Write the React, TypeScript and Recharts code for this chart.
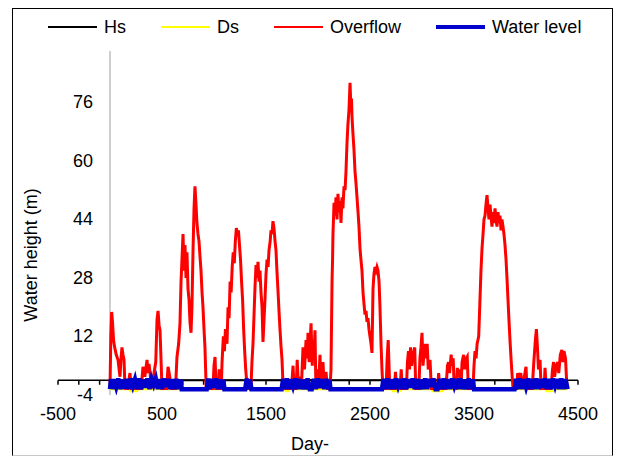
import React from 'react';
import { LineChart, Line, XAxis, YAxis, ReferenceLine, Legend } from 'recharts';

// ---- data (day, value) ----
const xTicks = [-500, 500, 1500, 2500, 3500, 4500];
const yTicks = [-4, 12, 28, 44, 60, 76];
const axisTickMarks = [-500, -300, -100, 100, 300, 500, 700, 900, 1100, 1300, 1500, 1700, 1900, 2100, 2300, 2500, 2700, 2900, 3100, 3300, 3500, 3700, 3900, 4100, 4300, 4500];

const hsPoints: number[][] = [[0, 0], [4400, 0]];

const dsPoints: number[][] = [
  [0, -2.4], [180, -2.4], [195, -3.0], [260, -3.0], [275, -2.4], [1680, -2.4], [1690, -3.0], [1715, -3.0], [1725, -2.4],
  [2710, -2.4], [2720, -3.0], [2790, -3.0], [2800, -2.4], [3090, -2.4], [3100, -3.0], [3200, -3.0], [3210, -2.4],
  [4190, -2.4], [4200, -3.0], [4260, -3.0], [4270, -2.4], [4400, -2.4],
];

const overflowPoints: number[][] = [
  [0, -2.2], [8, 12], [16, 18.7], [24, 16], [34, 11], [45, 9], [60, 7], [77, 5.6], [96, 1], [106, 6], [115, 9], [125, 7], [135, 5.6], [144, -2.2], [170, -2.2], [192, 2], [205, -2.2], [300, -2.2], [317, 3.7], [335, 1], [356, 5.6], [365, 2], [375, 4.5], [385, 2], [400, -2.2], [440, 5], [452, 16.5], [462, 19], [472, 15], [481, 13.7], [500, -2.2], [545, -2.2], [558, 3.7], [575, 1], [590, -2.2], [630, -2.2], [644, 6.4], [660, 10], [673, 15.6], [683, 27],
  [692, 33], [702, 40], [712, 30], [721, 37], [731, 28], [740, 35], [750, 25], [760, 22], [769, 16], [779, 13], [788, 20], [798, 35], [808, 47], [817, 53], [827, 48], [836, 43], [846, 40], [856, 38], [865, 34], [875, 30], [885, 24], [894, 20], [904, 14], [913, 9], [925, -2.2],
  [990, -2.2], [1000, 4], [1010, 6.4], [1020, -2.2], [1040, -2.2], [1050, 3], [1060, -2.2], [1070, -2.2], [1077, 4.7], [1090, 12], [1100, 8], [1110, 14], [1125, 10], [1135, 20], [1145, 17], [1155, 27], [1165, 24], [1175, 31], [1185, 35], [1195, 32], [1205, 38], [1215, 41.6], [1225, 40], [1235, 41], [1245, 37], [1255, 33], [1265, 27], [1275, 22], [1285, 14], [1295, 8], [1305, 3], [1320, -2.2],
  [1355, -2.2], [1365, 5], [1375, 10], [1385, 18], [1395, 26], [1404, 31.5], [1414, 28], [1423, 32.4], [1433, 27], [1442, 30], [1452, 24], [1462, 20], [1471, 10.5], [1480, 16], [1490, 22], [1500, 29], [1510, 33], [1520, 31], [1529, 35.6], [1540, 38], [1548, 41], [1558, 40], [1567, 43.5], [1577, 41.6], [1587, 38], [1596, 35.6], [1605, 30], [1615, 24.7], [1625, 19], [1635, 13.7], [1645, 9], [1654, 5.6], [1665, -2.2],
  [1745, -2.2], [1760, 4], [1770, -2.2], [1790, -2.2], [1800, 5.6], [1812, -2.2], [1827, 1], [1840, -2.2], [1856, 9], [1870, 3], [1885, 11], [1895, 6], [1904, 13], [1915, 5], [1933, 15.6], [1945, 4], [1952, 11], [1962, 6], [1971, 13.7], [1980, -2.2], [1990, 3], [2005, -2.2], [2019, 7], [2030, -2.2], [2048, 5], [2060, -2.2], [2077, 2.3], [2090, -2.2], [2115, -2.2],
  [2125, 3], [2135, 27], [2140, 33], [2144, 40], [2150, 45], [2154, 48.5], [2163, 45], [2173, 50], [2183, 44], [2192, 51], [2202, 46], [2212, 49], [2221, 43], [2231, 50], [2240, 47], [2250, 53], [2260, 52], [2269, 57], [2279, 65], [2288, 70], [2298, 74], [2308, 81.3], [2317, 74], [2322, 77], [2327, 72], [2337, 67], [2346, 63], [2356, 57], [2365, 54], [2375, 50], [2385, 46], [2394, 42], [2404, 36], [2413, 33], [2423, 30], [2433, 24], [2442, 21], [2452, 18], [2462, 19], [2471, 16], [2481, 17], [2490, 14], [2500, 12], [2510, 10], [2519, 7.5], [2529, 25], [2538, 29], [2548, 31], [2558, 30], [2567, 31], [2577, 30], [2587, 27], [2596, 20], [2606, 10], [2615, 3], [2625, -2.2],
  [2655, -2.2], [2665, 6], [2675, 11], [2690, -2.2],
  [2735, -2.2], [2745, 2.3], [2755, -2.2], [2790, -2.2], [2800, 3], [2810, -2.2], [2850, -2.2], [2860, 5], [2870, 8], [2880, 3], [2890, 9], [2900, 4], [2915, 7], [2930, 9], [2940, -2.2], [2970, -2.2], [2980, 6], [2990, 9], [3000, 13], [3010, 4], [3020, 8], [3030, 10], [3040, 6], [3050, 10], [3060, 3], [3077, 5.6], [3090, -2.2], [3150, -2.2], [3160, 2], [3170, -2.2], [3230, -2.2], [3245, 4], [3255, 5], [3265, 2], [3280, 7], [3290, 4], [3300, 6], [3310, -2.2], [3330, -2.2], [3340, 3.4], [3350, 1], [3360, 3], [3375, -2.2], [3385, 5], [3400, 7], [3410, 3], [3425, 6], [3435, 6.5], [3445, -2.2], [3490, -2.2], [3500, 4], [3510, 8], [3520, 6], [3530, 10], [3545, 12], [3555, 20], [3567, 30],
  [3577, 36], [3587, 40], [3596, 44], [3606, 45], [3615, 48], [3625, 50.6], [3635, 47], [3644, 44], [3654, 48], [3663, 45], [3673, 42], [3683, 46], [3692, 43], [3702, 47], [3712, 44], [3721, 42], [3731, 46], [3740, 43], [3750, 45], [3760, 41], [3769, 44], [3779, 42], [3788, 40], [3798, 37], [3808, 33], [3817, 28], [3827, 22], [3837, 16], [3846, 11], [3856, 6], [3865, 2], [3875, -2.2],
  [3910, -2.2], [3920, 2], [3930, 0.5], [3950, 2], [3965, -2.2], [3990, 2], [4000, 3.7], [4010, -2.2], [4060, -2.2], [4075, 5], [4090, 11], [4100, 14], [4110, 9], [4120, 3], [4135, 5.6], [4145, -2.2], [4175, -2.2], [4183, 3.4], [4195, -2.2], [4240, -2.2], [4255, 3], [4265, 5], [4275, 1], [4290, 4], [4305, 5], [4315, 2], [4330, 7], [4345, 8.3], [4355, 5], [4365, 8], [4380, 6], [4394, -2.2],
];

const waterLevelPoints: number[][] = [
  [0, -2.4], [10, 0.4], [20, -2.4], [40, 0.3], [60, -1.8], [80, 0.5], [100, -2.4], [120, 0.2], [140, -2.2], [160, 0.4], [180, -2.4], [200, 0.5], [220, -1.5], [240, 0.3], [260, -2.4], [280, 0.5], [300, -2.4], [320, 0.2], [340, -2], [360, 0.5], [380, -2.4], [400, 0.4], [420, -1.2], [440, 0.5], [460, -2.4], [480, 0.3], [500, -2.4], [520, 0.5], [540, -1.8], [560, 0.4], [580, -2.4], [600, 0.3], [620, -2.4], [640, 0.4], [660, -2.4], [680, 0.2], [690, -2.4],
  [930, -2.4], [945, 0.5], [960, -2.4], [980, 0.4], [1000, -2], [1020, 0.5], [1040, -2.4], [1060, 0.3], [1075, -2.4], [1090, 0.2], [1100, -2.4],
  [1300, -2.4], [1315, 0.5], [1330, -2.4], [1345, 0.3], [1360, -2.4],
  [1650, -2.4], [1665, 0.4], [1680, -2.4], [1700, 0.5], [1720, -2.4], [1740, 0.3], [1760, -1.6], [1780, 0.5], [1800, -2.4], [1820, 0.4], [1840, -2.4], [1860, 0.2], [1880, -2.4], [1900, 0.5], [1920, -2.4], [1940, -2.4], [1960, 0.4], [1980, -2.4], [2000, 0.5], [2020, -2], [2040, 0.3], [2060, -2.4], [2080, 0.4], [2100, -2.4], [2110, 0.2], [2120, -2.4],
  [2615, -2.4], [2630, 0.4], [2650, -2.4], [2670, 0.5], [2690, -2.4], [2710, 0.3], [2730, -2.4], [2750, 0.5], [2770, -1.5], [2790, 0.4], [2810, -2.4], [2830, 0.5], [2850, -2.4], [2870, 0.3], [2890, -2], [2910, 0.5], [2930, -2.4], [2950, 0.4], [2970, -2.4], [2990, 0.2], [3010, -2.4], [3030, 0.5], [3050, -2.4], [3070, 0.4], [3090, -1.8], [3110, 0.5], [3130, -2.4], [3150, -2.4], [3170, 0.4], [3190, -2.4], [3210, 0.5], [3230, -2.4], [3250, 0.3], [3270, -2.4], [3290, 0.5], [3310, -1.5], [3330, 0.4], [3350, -2.4], [3370, 0.5], [3390, -2.4], [3410, 0.2], [3430, -2.4], [3450, 0.5], [3470, -2.4], [3490, 0.3], [3500, -2.4],
  [3890, -2.4], [3905, 0.4], [3920, -2.4], [3940, 0.5], [3960, -2.4], [3980, 0.3], [4000, -1.8], [4020, 0.5], [4040, -2.4], [4060, 0.4], [4080, -2.4], [4100, 0.5], [4120, -2.4], [4140, 0.3], [4160, -2], [4180, 0.5], [4200, -2.4], [4220, 0.4], [4240, -2.4], [4260, 0.5], [4280, -1.5], [4300, 0.4], [4320, -2.4], [4340, 0.5], [4360, -2.4], [4380, 0.3], [4400, -2.4],
];

const toRows = (pts: number[][]) => pts.map(([day, v]) => ({ day, v }));

const FONT = '"Liberation Sans", Arial, sans-serif';

const legendItems = [
  { name: 'Hs', color: '#000000', width: 2 },
  { name: 'Ds', color: '#ffff00', width: 2 },
  { name: 'Overflow', color: '#ff0000', width: 2.5 },
  { name: 'Water level', color: '#0000cc', width: 4 },
];

const renderLegend = () => (
  <div style={{ display: 'flex', alignItems: 'center', height: 24, paddingLeft: 48, fontFamily: FONT, fontSize: 18, color: '#000' }}>
    {legendItems.map((it, i) => (
      <div key={it.name} style={{ display: 'flex', alignItems: 'center', marginRight: i < legendItems.length - 1 ? 35 : 0 }}>
        <span style={{ display: 'inline-block', width: 49, height: it.width, background: it.color, marginRight: 7 }} />
        <span style={{ lineHeight: '24px' }}>{it.name}</span>
      </div>
    ))}
  </div>
);

const YTick = (props: any) => {
  const { x, y, payload } = props;
  return (
    <text x={x + 35} y={y} textAnchor="end" dominantBaseline="central" fontFamily={FONT} fontSize={18} fill="#000">
      {payload.value}
    </text>
  );
};

const XTitle = (props: any) => {
  const vb = props.viewBox || {};
  const cx = vb.x + vb.width / 2 - 8;
  const cy = vb.y + vb.height + 19;
  return (
    <text x={cx} y={cy} textAnchor="middle" dominantBaseline="central" fontFamily={FONT} fontSize={18} fill="#000">
      Day-
    </text>
  );
};

const YTitle = (props: any) => {
  const vb = props.viewBox || {};
  const cx = vb.x + 13;
  const cy = vb.y + vb.height / 2 + 32;
  return (
    <text x={cx} y={cy} transform={`rotate(-90, ${cx}, ${cy})`} textAnchor="middle" dominantBaseline="central" fontFamily={FONT} fontSize={18} fill="#000">
      Water height (m)
    </text>
  );
};

export default function App() {
  return (
    <div style={{ position: 'absolute', left: 0, top: 0, width: 619, height: 459, background: '#fff' }}>
      <div style={{ position: 'absolute', left: 12, top: 8, width: 599, height: 446, borderTop: '1.5px solid #000', borderLeft: '1.5px solid #000', borderRight: '1.5px solid #000', borderBottom: '1px solid #c8c8c8' }} />
      <LineChart width={619} height={459} margin={{ top: 27, right: 41, bottom: 34, left: 18 }} style={{ position: 'absolute', left: 0, top: 0 }}>
        <Legend verticalAlign="top" align="left" content={renderLegend} wrapperStyle={{ top: 15, left: 0, width: 619, height: 24 }} />
        <XAxis
          type="number"
          dataKey="day"
          domain={[-500, 4500]}
          ticks={xTicks}
          allowDataOverflow
          axisLine={false}
          tickLine={false}
          tickSize={0}
          tickMargin={12}
          height={30}
          tick={{ fontFamily: FONT, fontSize: 18, fill: '#000' }}
          label={<XTitle />}
        />
        <YAxis
          type="number"
          domain={[-4, 90]}
          ticks={yTicks}
          allowDataOverflow
          axisLine={false}
          tickLine={false}
          tickSize={0}
          tickMargin={0}
          width={40}
          tick={<YTick />}
          label={<YTitle />}
        />
        <ReferenceLine x={0} stroke="#bfbfbf" strokeWidth={1.5} />
        <ReferenceLine y={0} stroke="#000" strokeWidth={1.5} />
        {axisTickMarks.map((t) => (
          <ReferenceLine key={t} segment={[{ x: t, y: 0 }, { x: t, y: -1.2 }]} stroke="#000" strokeWidth={1.5} />
        ))}
        <Line data={toRows(hsPoints)} dataKey="v" name="Hs" stroke="#000000" strokeWidth={2} dot={false} isAnimationActive={false} />
        <Line data={toRows(dsPoints)} dataKey="v" name="Ds" stroke="#ffff00" strokeWidth={2} dot={false} isAnimationActive={false} />
        <Line data={toRows(overflowPoints)} dataKey="v" name="Overflow" stroke="#ff0000" strokeWidth={3} dot={false} isAnimationActive={false} />
        <Line data={toRows(waterLevelPoints)} dataKey="v" name="Water level" stroke="#0000cc" strokeWidth={4.5} dot={false} isAnimationActive={false} />
      </LineChart>
    </div>
  );
}
